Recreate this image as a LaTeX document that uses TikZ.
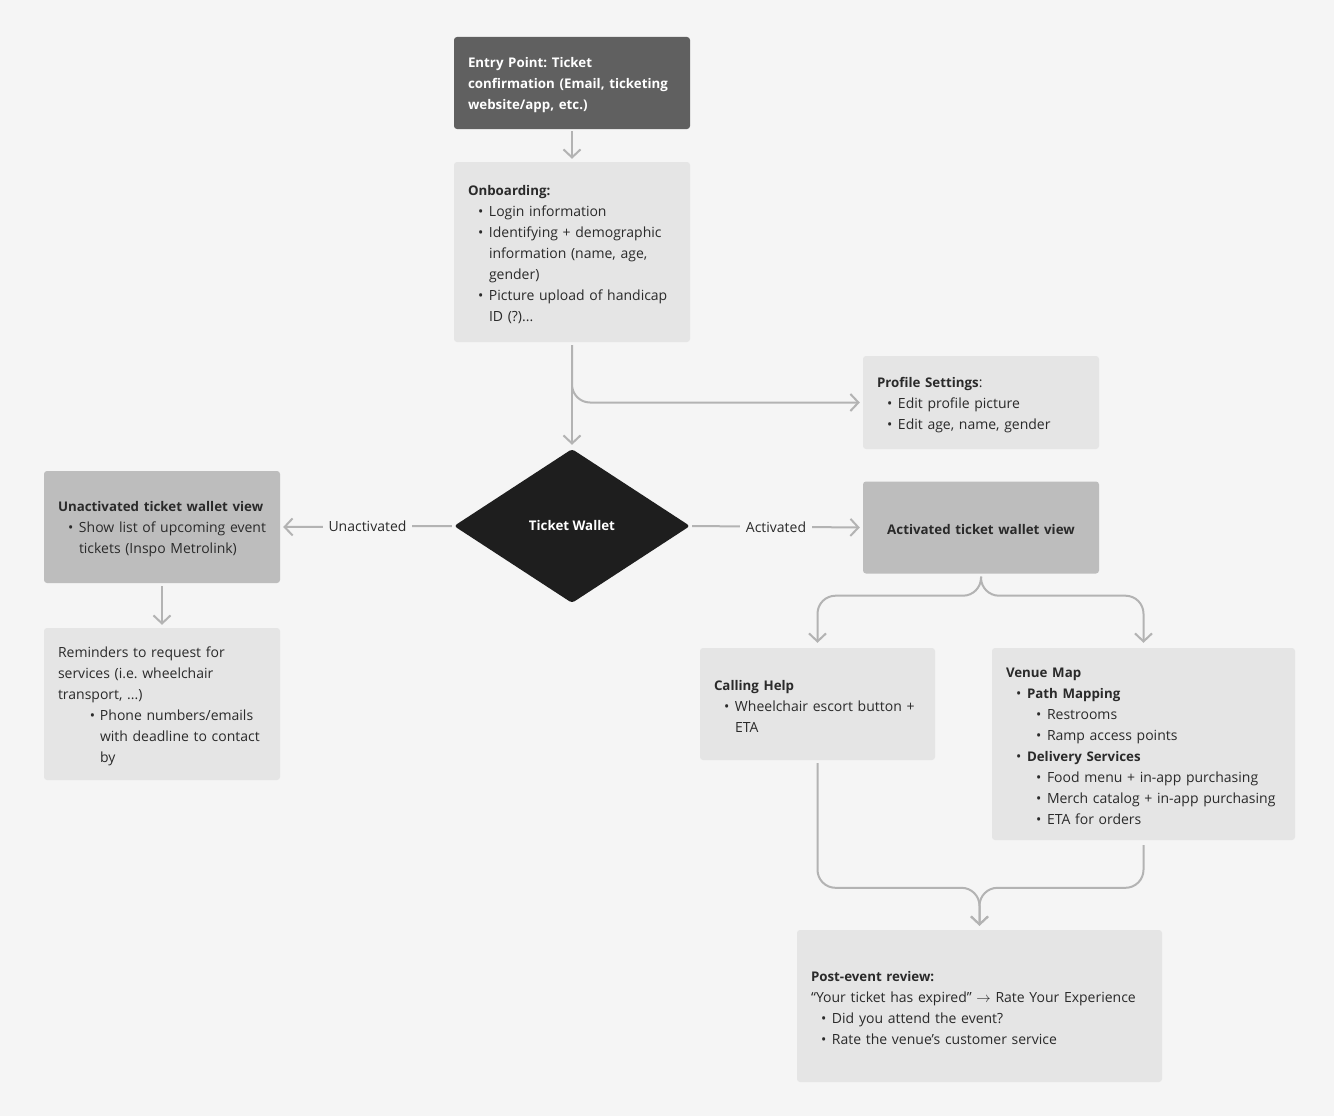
\documentclass[tikz,border=0pt]{standalone}
\usepackage{fontspec}
\setmainfont{Open Sans}[BoldFeatures={Scale=0.95}]
\usetikzlibrary{arrows.meta,shapes.geometric}
\definecolor{bg}{HTML}{F5F5F5}
\definecolor{txt}{HTML}{2A2A2A}
\definecolor{darkbox}{HTML}{606060}
\definecolor{lightbox}{HTML}{E5E5E5}
\definecolor{midbox}{HTML}{BDBDBD}
\definecolor{diam}{HTML}{1E1E1E}
\definecolor{conncol}{HTML}{B3B3B3}
\newcommand\myb{\hspace*{10pt}\makebox[11pt][l]{\textbullet}}
\newcommand\myc{\hspace*{21pt}}
\newcommand\mybb{\hspace*{30pt}\makebox[11pt][l]{\textbullet}}
\frenchspacing
\begin{document}
\frenchspacing
\begin{tikzpicture}[x=1pt,y=-1pt,
  every node/.style={font=\fontsize{14}{21}\selectfont\frenchspacing, text=txt},
  box/.style={rectangle, rounded corners=3pt, inner xsep=14pt, inner ysep=0pt, align=left, anchor=center,
    execute at begin node={\rule{0pt}{14.5pt}}},
  conn/.style={draw=conncol, line width=2pt, -{Straight Barb[length=8pt,width=17pt]}},
  lbl/.style={fill=bg, inner xsep=6pt, inner ysep=2pt}
]
\fill[bg] (0,0) rectangle (1334,1116);
\useasboundingbox (0,0) rectangle (1334,1116);

\node[box, fill=darkbox, text=white, text width=208pt, minimum width=236pt, minimum height=92pt] (entry) at (572,83)
 {\bfseries Entry Point: Ticket\\ \bfseries \mbox{confirmation (Email, ticketing}\\ \bfseries website/app, etc.)};

\node[box, fill=lightbox, text width=208pt, minimum width=236pt, minimum height=180pt] (onb) at (572,252)
 {\textbf{Onboarding:}\\
  \myb Login information\\
  \myb \mbox{Identifying + demographic}\\
  \myc information (name, age,\\
  \myc gender)\\
  \myb \mbox{Picture upload of handicap}\\
  \myc ID (?)...};

\node[box, fill=lightbox, text width=208pt, minimum width=236pt, minimum height=93pt] (prof) at (981,402.5)
 {\textbf{Profile Settings}:\\
  \myb Edit profile picture\\
  \myb Edit age, name, gender};

\node[diamond, fill=diam, rounded corners=3pt, minimum width=236pt, minimum height=154pt, inner sep=0pt, text=white] (tw) at (572,526)
 {\bfseries Ticket Wallet};

\node[box, fill=midbox, text width=208pt, minimum width=236pt, minimum height=112pt] (unact) at (162,527)
 {\textbf{\mbox{Unactivated ticket wallet view}}\\
  \myb \mbox{Show list of upcoming event}\\
  \myc \mbox{tickets (Inspo Metrolink)}};

\node[box, fill=lightbox, text width=208pt, minimum width=236pt, minimum height=152pt] (rem) at (162,704)
 {Reminders to request for\\
  services (i.e. wheelchair\\
  transport, ...)\\
  \hspace*{32pt}\makebox[10pt][l]{\textbullet}\mbox{Phone numbers/emails}\\
  \hspace*{42pt}\mbox{with deadline to contact}\\
  \hspace*{42pt}by};

\node[box, fill=midbox, align=center, text width=208pt, minimum width=236pt, minimum height=92pt] (act) at (981,527.5)
 {\bfseries Activated ticket wallet view};

\node[box, fill=lightbox, text width=207pt, minimum width=235pt, minimum height=112pt] (call) at (817.5,704)
 {\textbf{Calling Help}\\
  \myb \mbox{Wheelchair escort button +}\\
  \myc ETA};

\node[box, fill=lightbox, text width=275pt, minimum width=303pt, minimum height=192pt] (venue) at (1143.5,744)
 {\textbf{Venue Map}\\
  \myb\textbf{Path Mapping}\\
  \mybb Restrooms\\
  \mybb Ramp access points\\
  \myb\textbf{Delivery Services}\\
  \mybb Food menu + in-app purchasing\\
  \mybb \mbox{Merch catalog + in-app purchasing}\\
  \mybb ETA for orders};

\node[box, fill=lightbox, text width=337pt, minimum width=365pt, minimum height=152pt] (post) at (979.5,1006)
 {\textbf{Post-event review:}\\
  \mbox{“Your ticket has expired” $\rightarrow$ Rate Your Experience}\\
  \myb Did you attend the event?\\
  \myb Rate the venue’s customer service};

% connectors
\draw[conn] ([yshift=-2pt]entry.south) -- ([yshift=3pt]onb.north);
\draw[conn] ([yshift=-3pt]onb.south) -- ([yshift=4pt]tw.north);
\draw[conn, rounded corners=18pt] ([yshift=-3pt]onb.south) |- ([xshift=-3pt]prof.west);
\draw[conn] ([xshift=-2pt]tw.west) -- node[lbl]{Unactivated} ([xshift=3pt]unact.east);
\draw[conn] ([xshift=2pt]tw.east) -- node[lbl]{Activated} ([xshift=-3pt]act.west);
\draw[conn] ([yshift=-3pt]unact.south) -- ([yshift=3pt]rem.north);
\draw[conn, rounded corners=18pt] ([yshift=-3pt]act.south) |- ([yshift=-22pt]act.south -| call.north) -- ([yshift=5pt]call.north);
\draw[conn, rounded corners=18pt] ([yshift=-3pt]act.south) |- ([yshift=-22pt]act.south -| venue.north) -- ([yshift=5pt]venue.north);
\draw[conn, rounded corners=18pt] ([yshift=-3pt]call.south) |- ([yshift=42pt]post.north) -- ([yshift=4pt]post.north);
\draw[conn, rounded corners=18pt] ([yshift=-5pt]venue.south) |- ([yshift=42pt]post.north) -- ([yshift=4pt]post.north);
\end{tikzpicture}
\end{document}
